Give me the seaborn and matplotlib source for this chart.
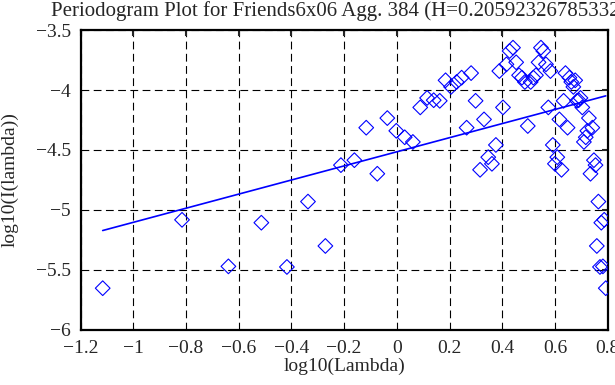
import numpy as np
import matplotlib
matplotlib.use("Agg")
import matplotlib.pyplot as plt
import seaborn as sns

# Periodogram points: log10 frequency vs log10 intensity
log_lambda = [
    -1.116, -0.815, -0.639, -0.514, -0.417, -0.337, -0.271, -0.212, -0.161, -0.116,
    -0.074, -0.036, -0.002, 0.030, 0.061, 0.089, 0.115, 0.140, 0.163, 0.185,
    0.206, 0.227, 0.246, 0.265, 0.282, 0.299, 0.316, 0.331, 0.347, 0.361,
    0.376, 0.389, 0.403, 0.416, 0.428, 0.441, 0.453, 0.464, 0.475, 0.486,
    0.497, 0.508, 0.518, 0.528, 0.538, 0.547, 0.556, 0.566, 0.575, 0.583,
    0.592, 0.600, 0.609, 0.617, 0.625, 0.633, 0.640, 0.648, 0.655, 0.662,
    0.670, 0.677, 0.684, 0.690, 0.697, 0.704, 0.710, 0.717, 0.723, 0.729,
    0.735, 0.742, 0.748, 0.754, 0.759, 0.765, 0.771, 0.776, 0.782, 0.787,
    0.793,
]
log_intensity = [
    -5.652, -5.082, -5.470, -5.106, -5.475, -4.930, -5.300, -4.626, -4.585, -4.314,
    -4.698, -4.234, -4.340, -4.394, -4.433, -4.145, -4.066, -4.085, -4.090, -3.919,
    -3.974, -3.933, -3.897, -4.314, -3.859, -4.090, -4.665, -4.245, -4.560, -4.615,
    -4.458, -3.842, -4.145, -3.786, -3.675, -3.647, -3.769, -3.877, -3.897, -3.933,
    -4.300, -3.933, -3.897, -3.877, -3.769, -3.647, -3.675, -3.786, -4.145, -3.842,
    -4.458, -4.615, -4.560, -4.245, -4.665, -4.090, -3.859, -4.314, -3.897, -3.933,
    -3.974, -3.919, -4.090, -4.085, -4.066, -4.145, -4.433, -4.394, -4.340, -4.234,
    -4.698, -4.314, -4.585, -4.626, -5.300, -4.930, -5.475, -5.106, -5.470, -5.082,
    -5.652,
]

# fitted line (slope = 1 - 2H)
fit_slope = 0.588
fit_intercept = -4.515
fit_x = [min(log_lambda), max(log_lambda)]
fit_y = [fit_intercept + fit_slope * v for v in fit_x]

title = "Periodogram Plot for Friends6x06 Agg. 384 (H=0.205923267853326)"

sns.set_style("white")
plt.rcParams["font.family"] = ["Liberation Serif", "DejaVu Serif"]
plt.rcParams["font.size"] = 14

fig = plt.figure(figsize=(6.15, 3.85), dpi=100)
ax = fig.add_axes([0.131, 0.143, 0.857, 0.779])

sns.scatterplot(x=log_lambda, y=log_intensity, marker="D", s=56,
                facecolor="none", edgecolor="#0000ff", linewidth=0.8, ax=ax, zorder=3)
sns.lineplot(x=fit_x, y=fit_y, color="#0000ff", linewidth=1.2, ax=ax, zorder=4)

ax.set_xlim(-1.2, 0.8)
ax.set_ylim(-6, -3.5)
ax.set_xticks(np.arange(-1.2, 0.81, 0.2))
ax.set_yticks(np.arange(-6, -3.49, 0.5))
ax.set_xticklabels(["\u22121.2", "\u22121", "\u22120.8", "\u22120.6", "\u22120.4",
                    "\u22120.2", "0", "0.2", "0.4", "0.6", "0.8"])
ax.set_yticklabels(["\u22126", "\u22125.5", "\u22125", "\u22124.5", "\u22124", "\u22123.5"])

ax.grid(True, color="black", linestyle=(0, (7, 4)), linewidth=0.8)
for s in ax.spines.values():
    s.set_color("black")
    s.set_linewidth(1.6)
ax.tick_params(direction="in", length=4, width=1.5, top=True, right=True,
               labelsize=14, pad=7)

ax.set_xlabel("log10(Lambda)", fontsize=14, labelpad=1)
ax.set_ylabel("log10(I(lambda))", fontsize=14, labelpad=12)
ax.set_title(title, fontsize=15, pad=10)

fig.savefig("out.png", dpi=100)
